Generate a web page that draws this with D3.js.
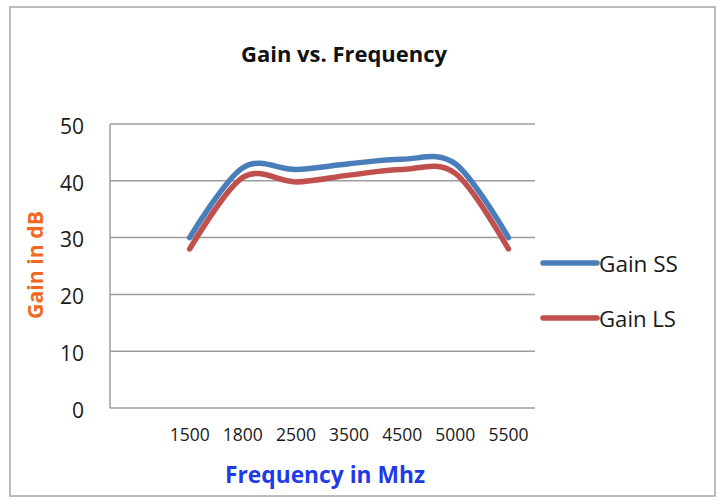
<!DOCTYPE html>
<html><head><meta charset="utf-8">
<script src="https://cdn.jsdelivr.net/npm/d3@7"></script>
<style>body{margin:0;background:#fff}svg{display:block}</style>
</head><body>
<script>
const categories = ["", "1500", "1800", "2500", "3500", "4500", "5000", "5500"];
const gainSS = [null, 30, 42.3, 42, 43, 43.8, 43, 30];
const gainLS = [null, 28, 40.6, 39.8, 41, 42, 41.3, 28];
const yTicks = [0, 10, 20, 30, 40, 50];
const seriesNames = ["Gain SS", "Gain LS"];
const colors = ["#4A7EBB", "#C0504D"];

(function () {
const W = 724, H = 504;
const svg = d3.select("body").append("svg").attr("width", W).attr("height", H);
const font = "'Open Sans', 'Noto Sans', sans-serif";

function fit(sel, width) {
  sel.each(function () {
    const fs = parseFloat(this.getAttribute("font-size"));
    const len = this.getComputedTextLength();
    if (len > 0) this.setAttribute("font-size", (fs * width / len).toFixed(2));
  });
}

svg.append("rect").attr("x", 10).attr("y", 7).attr("width", 705).attr("height", 489)
  .attr("fill", "#fff").attr("stroke", "#A6A6A6").attr("stroke-width", 1.5);

const pL = 110, pR = 535, pT = 124, pB = 408;
const x = d3.scaleBand().domain(categories).range([pL, pR]);
const y = d3.scaleLinear().domain([0, 50]).range([pB, pT]);

svg.append("g").selectAll("line").data(yTicks).join("line")
  .attr("x1", pL).attr("x2", pR)
  .attr("y1", d => y(d)).attr("y2", d => y(d))
  .attr("stroke", "#9C9C9C").attr("stroke-width", 1.5);
svg.append("line").attr("x1", pL).attr("x2", pL).attr("y1", pT).attr("y2", pB)
  .attr("stroke", "#9C9C9C").attr("stroke-width", 1.5);

const yAxis = d3.axisLeft(y).tickValues(yTicks).tickSize(0).tickPadding(0);
const gy = svg.append("g").attr("transform", `translate(${pL - 26},2)`).call(yAxis);
gy.select(".domain").remove();
gy.selectAll("text").attr("font-family", font).attr("font-size", 21).attr("fill", "#1a1a1a").attr("dy", "0.35em");

const xAxis = d3.axisBottom(x).tickSize(0).tickPadding(0);
const gx = svg.append("g").attr("transform", `translate(0,${pB + 21})`).call(xAxis);
gx.select(".domain").remove();
gx.selectAll("text").attr("font-family", font).attr("font-size", 17.5).attr("fill", "#1a1a1a").attr("dy", "0.71em");

const line = d3.line()
  .defined(d => d.v != null)
  .x(d => x(d.c) + x.bandwidth() / 2)
  .y(d => y(d.v))
  .curve(d3.curveCardinal.tension(0));
[gainSS, gainLS].forEach((s, i) => {
  const pts = categories.map((c, j) => ({c, v: s[j]}));
  svg.append("path").datum(pts).attr("d", line)
    .attr("fill", "none").attr("stroke", colors[i]).attr("stroke-width", 5.5)
    .attr("stroke-linecap", "round").attr("stroke-linejoin", "round");
});

const legY = [263, 318];
seriesNames.forEach((n, i) => {
  svg.append("line").attr("x1", 543).attr("x2", 597).attr("y1", legY[i]).attr("y2", legY[i])
    .attr("stroke", colors[i]).attr("stroke-width", 5.5).attr("stroke-linecap", "round");
  svg.append("text").attr("x", 599).attr("y", legY[i] + 1).attr("dy", "0.36em")
    .attr("font-family", font).attr("font-size", 21).attr("fill", "#1a1a1a").text(n)
    .call(fit, i === 0 ? 79 : 77);
});

svg.append("text").attr("x", 344).attr("y", 62).attr("text-anchor", "middle")
  .attr("font-family", font).attr("font-weight", "bold").attr("font-size", 20)
  .attr("fill", "#111").text("Gain vs. Frequency").call(fit, 206);
svg.append("text").attr("transform", "translate(43,265) rotate(-90)").attr("text-anchor", "middle")
  .attr("font-family", font).attr("font-weight", "bold").attr("font-size", 20)
  .attr("fill", "#F0691F").text("Gain in dB").call(fit, 108);
svg.append("text").attr("x", 325).attr("y", 483).attr("text-anchor", "middle")
  .attr("font-family", font).attr("font-weight", "bold").attr("font-size", 20)
  .attr("fill", "#1F3BE8").text("Frequency in Mhz").call(fit, 200);
})();
</script>
</body></html>
